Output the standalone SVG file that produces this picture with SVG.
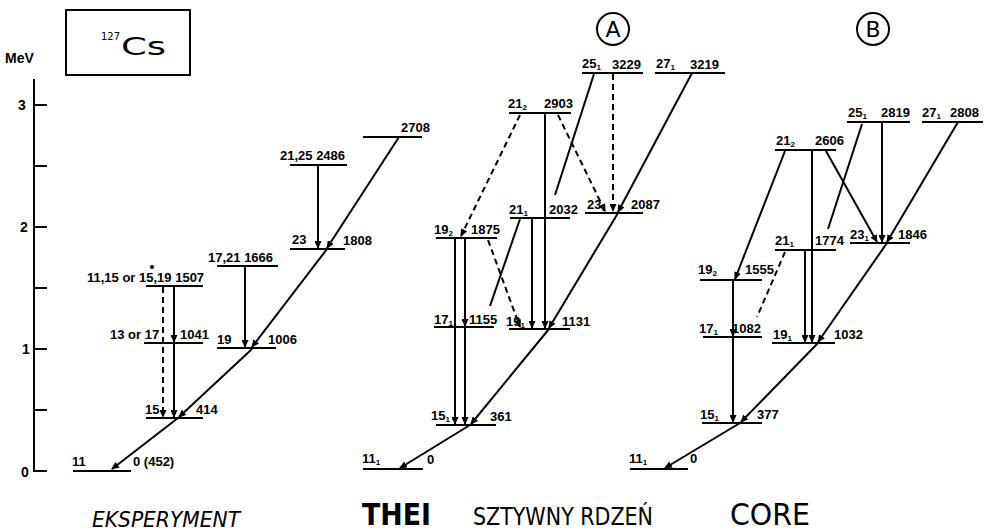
<svg xmlns="http://www.w3.org/2000/svg" width="1007" height="532" viewBox="0 0 1007 532">
<style>
.lv{stroke:#000;stroke-width:2;fill:none}
.tr{stroke:#000;stroke-width:2;fill:none}
.ds{stroke:#000;stroke-width:2;fill:none;stroke-dasharray:6,4}
.t{font-family:"Liberation Sans",Arial,sans-serif;font-weight:bold;font-size:13px;fill:#000}
.sb{font-size:8px}
.ax{font-family:"Liberation Sans",Arial,sans-serif;font-weight:bold;font-size:14px;fill:#000}
.big{font-family:"DejaVu Sans","Liberation Sans",sans-serif;fill:#000}
</style>
<defs>
<marker id="ar" markerUnits="userSpaceOnUse" markerWidth="8" markerHeight="7" refX="7" refY="3.5" orient="auto">
<path d="M0,0 L8,3.5 L0,7 z" fill="#000"/>
</marker>
</defs>
<rect width="1007" height="532" fill="#fff"/>

<g id="axis">
<line class="lv" x1="34" y1="79" x2="34" y2="471"/>
<line class="lv" x1="33" y1="105" x2="47" y2="105"/>
<line class="lv" x1="33" y1="166" x2="47" y2="166"/>
<line class="lv" x1="33" y1="227" x2="47" y2="227"/>
<line class="lv" x1="33" y1="288" x2="47" y2="288"/>
<line class="lv" x1="33" y1="349" x2="47" y2="349"/>
<line class="lv" x1="33" y1="410" x2="47" y2="410"/>
<line class="lv" x1="33" y1="471" x2="47" y2="471"/>
<text class="ax" x="5" y="63" font-size="11">MeV</text>
<text class="ax" x="18" y="110">3</text>
<text class="ax" x="20" y="232">2</text>
<text class="ax" x="22" y="354">1</text>
<text class="ax" x="21" y="477">0</text>
</g>

<g id="title">
<rect x="66" y="10" width="124" height="65" fill="none" stroke="#000" stroke-width="2"/>
<text class="big" x="101" y="40" font-size="10">127</text>
<text class="big" x="121" y="55" font-size="25" textLength="45" lengthAdjust="spacingAndGlyphs">Cs</text>
</g>

<g id="circleA">
<circle cx="613" cy="29" r="16" fill="none" stroke="#000" stroke-width="2"/>
<text class="big" x="613" y="37" font-size="22" text-anchor="middle">A</text>
</g>
<g id="circleB">
<circle cx="873" cy="29" r="16" fill="none" stroke="#000" stroke-width="2"/>
<text class="big" x="873" y="37" font-size="22" text-anchor="middle">B</text>
</g>

<!-- Experiment levels -->
<g id="e0"><line class="lv" x1="73" y1="471" x2="131" y2="471"/><text class="t" x="72" y="466">11</text><text class="t" x="133" y="466">0 (452)</text></g>
<g id="e414"><line class="lv" x1="146" y1="418" x2="203" y2="418"/><text class="t" x="145" y="414">15</text><text class="t" x="196" y="414">414</text></g>
<g id="e1041"><line class="lv" x1="144" y1="343" x2="203" y2="343"/><text class="t" x="110" y="339">13 or 17</text><text class="t" x="180" y="339">1041</text></g>
<g id="e1507"><line class="lv" x1="146" y1="286" x2="203" y2="286"/><text class="t" x="87" y="282">11,15 or 15,19 1507</text><circle cx="152" cy="267" r="2" fill="#000"/></g>
<g id="e1006"><line class="lv" x1="217" y1="348" x2="276" y2="348"/><text class="t" x="217" y="344">19</text><text class="t" x="268" y="344">1006</text></g>
<g id="e1666"><line class="lv" x1="217" y1="266" x2="278" y2="266"/><text class="t" x="208" y="262">17,21 1666</text></g>
<g id="e1808"><line class="lv" x1="290" y1="249" x2="345" y2="249"/><text class="t" x="292" y="244">23</text><text class="t" x="343" y="245">1808</text></g>
<g id="e2486"><line class="lv" x1="290" y1="165" x2="347" y2="165"/><text class="t" x="280" y="160">21,25 2486</text></g>
<g id="e2708"><line class="lv" x1="363" y1="137" x2="422" y2="137"/><text class="t" x="401" y="132">2708</text></g>

<!-- Theory A levels -->
<g id="a0"><line class="lv" x1="363" y1="469" x2="423" y2="469"/><text class="t" x="362" y="463">11<tspan class="sb" dy="2">1</tspan></text><text class="t" x="427" y="464">0</text></g>
<g id="a361"><line class="lv" x1="436" y1="425" x2="496" y2="425"/><text class="t" x="431" y="420">15<tspan class="sb" dy="2">1</tspan></text><text class="t" x="490" y="421">361</text></g>
<g id="a1155"><line class="lv" x1="434" y1="327" x2="494" y2="327"/><text class="t" x="434" y="324">17<tspan class="sb" dy="2">1</tspan></text><text class="t" x="469" y="324">1155</text></g>
<g id="a1131"><line class="lv" x1="509" y1="329" x2="570" y2="329"/><text class="t" x="506" y="326">19<tspan class="sb" dy="2">1</tspan></text><text class="t" x="562" y="326">1131</text></g>
<g id="a1875"><line class="lv" x1="436" y1="238" x2="497" y2="238"/><text class="t" x="434" y="234">19<tspan class="sb" dy="2">2</tspan></text><text class="t" x="471" y="234">1875</text></g>
<g id="a2032"><line class="lv" x1="510" y1="218" x2="570" y2="218"/><text class="t" x="509" y="214">21<tspan class="sb" dy="2">1</tspan></text><text class="t" x="549" y="214">2032</text></g>
<g id="a2087"><line class="lv" x1="585" y1="213" x2="643" y2="213"/><text class="t" x="587" y="209">23<tspan class="sb" dy="2">1</tspan></text><text class="t" x="631" y="209">2087</text></g>
<g id="a2903"><line class="lv" x1="509" y1="113" x2="571" y2="113"/><text class="t" x="508" y="108">21<tspan class="sb" dy="2">2</tspan></text><text class="t" x="544" y="108">2903</text></g>
<g id="a3229"><line class="lv" x1="582" y1="73" x2="643" y2="73"/><text class="t" x="582" y="68">25<tspan class="sb" dy="2">1</tspan></text><text class="t" x="612" y="69">3229</text></g>
<g id="a3219"><line class="lv" x1="655" y1="73" x2="725" y2="73"/><text class="t" x="656" y="68">27<tspan class="sb" dy="2">1</tspan></text><text class="t" x="690" y="69">3219</text></g>

<!-- Theory B levels -->
<g id="b0"><line class="lv" x1="630" y1="469" x2="688" y2="469"/><text class="t" x="629" y="463">11<tspan class="sb" dy="2">1</tspan></text><text class="t" x="690" y="463">0</text></g>
<g id="b377"><line class="lv" x1="702" y1="423" x2="762" y2="423"/><text class="t" x="700" y="419">15<tspan class="sb" dy="2">1</tspan></text><text class="t" x="757" y="419">377</text></g>
<g id="b1082"><line class="lv" x1="703" y1="337" x2="762" y2="337"/><text class="t" x="699" y="333">17<tspan class="sb" dy="2">1</tspan></text><text class="t" x="732" y="333">1082</text></g>
<g id="b1032"><line class="lv" x1="772" y1="343" x2="835" y2="343"/><text class="t" x="773" y="339">19<tspan class="sb" dy="2">1</tspan></text><text class="t" x="834" y="339">1032</text></g>
<g id="b1555"><line class="lv" x1="700" y1="280" x2="762" y2="280"/><text class="t" x="698" y="274">19<tspan class="sb" dy="2">2</tspan></text><text class="t" x="745" y="274">1555</text></g>
<g id="b1774"><line class="lv" x1="775" y1="250" x2="836" y2="250"/><text class="t" x="775" y="245">21<tspan class="sb" dy="2">1</tspan></text><text class="t" x="815" y="245">1774</text></g>
<g id="b1846"><line class="lv" x1="850" y1="243" x2="910" y2="243"/><text class="t" x="850" y="239">23<tspan class="sb" dy="2">1</tspan></text><text class="t" x="898" y="239">1846</text></g>
<g id="b2606"><line class="lv" x1="775" y1="150" x2="836" y2="150"/><text class="t" x="776" y="145">21<tspan class="sb" dy="2">2</tspan></text><text class="t" x="815" y="145">2606</text></g>
<g id="b2819"><line class="lv" x1="847" y1="122" x2="910" y2="122"/><text class="t" x="848" y="117">25<tspan class="sb" dy="2">1</tspan></text><text class="t" x="881" y="117">2819</text></g>
<g id="b2808"><line class="lv" x1="922" y1="122" x2="983" y2="122"/><text class="t" x="922" y="117">27<tspan class="sb" dy="2">1</tspan></text><text class="t" x="950" y="117">2808</text></g>

<g id="connectors">
<!-- experiment -->
<line class="tr" x1="399" y1="137" x2="327" y2="248" marker-end="url(#ar)"/>
<line class="tr" x1="327" y1="249" x2="252" y2="347" marker-end="url(#ar)"/>
<line class="tr" x1="252" y1="349" x2="179" y2="417" marker-end="url(#ar)"/>
<line class="tr" x1="178" y1="418" x2="112" y2="469" marker-end="url(#ar)"/>
<line class="ds" x1="163" y1="287" x2="163" y2="417" marker-end="url(#ar)"/>
<line class="tr" x1="174" y1="286" x2="174" y2="342" marker-end="url(#ar)"/>
<line class="tr" x1="174" y1="343" x2="174" y2="417" marker-end="url(#ar)"/>
<line class="tr" x1="245" y1="266" x2="245" y2="347" marker-end="url(#ar)"/>
<line class="tr" x1="318" y1="165" x2="318" y2="248" marker-end="url(#ar)"/>
<!-- theory A -->
<line class="tr" x1="692" y1="73" x2="618" y2="212" marker-end="url(#ar)"/>
<line class="tr" x1="618" y1="213" x2="549" y2="328" marker-end="url(#ar)"/>
<line class="tr" x1="549" y1="329" x2="471" y2="424" marker-end="url(#ar)"/>
<line class="tr" x1="470" y1="425" x2="400" y2="468" marker-end="url(#ar)"/>
<line class="tr" x1="455" y1="238" x2="455" y2="424" marker-end="url(#ar)"/>
<line class="tr" x1="465" y1="238" x2="465" y2="326" marker-end="url(#ar)"/>
<line class="tr" x1="465" y1="327" x2="465" y2="424" marker-end="url(#ar)"/>
<line class="tr" x1="532" y1="218" x2="532" y2="328" marker-end="url(#ar)"/>
<line class="tr" x1="545" y1="113" x2="545" y2="328" marker-end="url(#ar)"/>
<line class="ds" x1="488" y1="240" x2="520" y2="327" marker-end="url(#ar)"/>
<line class="ds" x1="520" y1="115" x2="461" y2="236" marker-end="url(#ar)"/>
<line class="tr" x1="520" y1="219" x2="490" y2="306"/>
<line class="tr" x1="594" y1="74" x2="555" y2="195"/>
<line class="ds" x1="613" y1="74" x2="613" y2="211" marker-end="url(#ar)"/>
<line class="ds" x1="558" y1="115" x2="605" y2="211" marker-end="url(#ar)"/>
<!-- theory B -->
<line class="tr" x1="958" y1="122" x2="887" y2="242" marker-end="url(#ar)"/>
<line class="tr" x1="887" y1="243" x2="818" y2="342" marker-end="url(#ar)"/>
<line class="tr" x1="818" y1="343" x2="741" y2="422" marker-end="url(#ar)"/>
<line class="tr" x1="740" y1="423" x2="665" y2="468" marker-end="url(#ar)"/>
<line class="tr" x1="882" y1="122" x2="882" y2="242" marker-end="url(#ar)"/>
<line class="tr" x1="812" y1="150" x2="812" y2="342" marker-end="url(#ar)"/>
<line class="tr" x1="805" y1="250" x2="805" y2="342" marker-end="url(#ar)"/>
<line class="tr" x1="785" y1="151" x2="735" y2="279" marker-end="url(#ar)"/>
<line class="tr" x1="826" y1="151" x2="877" y2="242" marker-end="url(#ar)"/>
<line class="tr" x1="862" y1="124" x2="828" y2="229"/>
<line class="ds" x1="785" y1="252" x2="757" y2="317"/>
<line class="tr" x1="733" y1="280" x2="733" y2="336" marker-end="url(#ar)"/>
<line class="tr" x1="733" y1="337" x2="733" y2="422" marker-end="url(#ar)"/>
</g>

<g id="captions">
<text class="big" x="92" y="527" font-size="22" font-style="italic" textLength="148" lengthAdjust="spacingAndGlyphs">EKSPERYMENT</text>
<text class="big" x="362" y="525" font-size="31" font-weight="bold" textLength="69" lengthAdjust="spacingAndGlyphs">THEI</text>
<text class="big" x="473" y="525" font-size="24" textLength="180" lengthAdjust="spacingAndGlyphs">SZTYWNY RDZEŃ</text>
<text class="big" x="730" y="525" font-size="31" textLength="80" lengthAdjust="spacingAndGlyphs">CORE</text>
</g>
</svg>
